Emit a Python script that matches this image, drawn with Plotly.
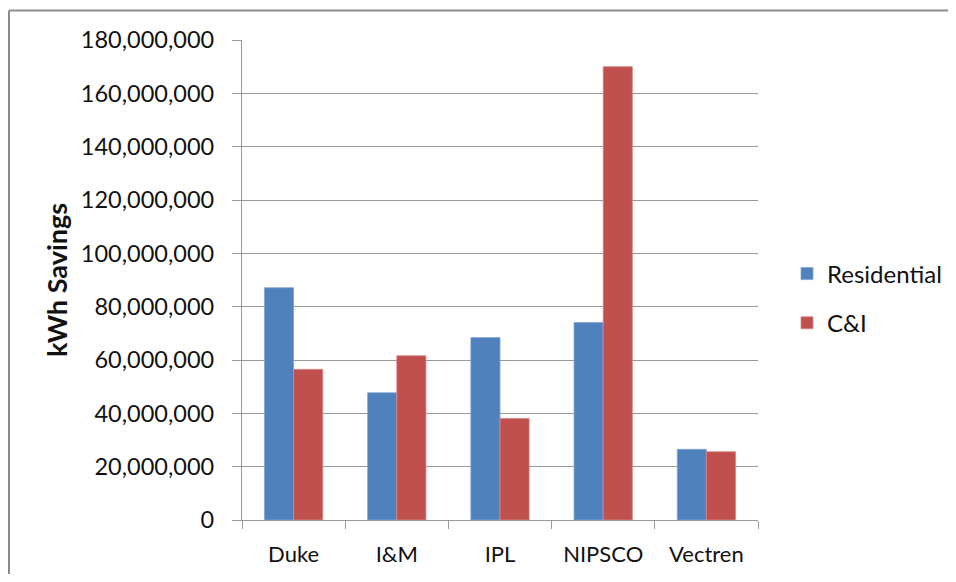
import plotly.graph_objects as go

categories = ["Duke", "I&M", "IPL", "NIPSCO", "Vectren"]
residential = [87100000, 47700000, 68400000, 74100000, 26500000]
ci = [56500000, 61600000, 38100000, 170000000, 25600000]
tick_vals = [0, 20000000, 40000000, 60000000, 80000000, 100000000, 120000000, 140000000, 160000000, 180000000]
tick_text = ["0", "20,000,000", "40,000,000", "60,000,000", "80,000,000", "100,000,000",
             "120,000,000", "140,000,000", "160,000,000", "180,000,000"]

FONT = "Lato"
# browser body margin is 8px; keep the figure inside the window
W, H = 940, 566
ML, MR, MT, MB = 234, 190, 32, 54
PW, PH = W - ML - MR, H - MT - MB

fig = go.Figure()
fig.add_trace(go.Bar(x=categories, y=residential, name="Residential", legendgroup="a",
                     marker=dict(color="#4F81BD", line=dict(color="#7FA3D3", width=0.8))))
fig.add_trace(go.Bar(x=categories, y=ci, name="C&I", legendgroup="b",
                     marker=dict(color="#C0504D", line=dict(color="#D88886", width=0.8))))

def px2x(px):
    return (px - ML) / PW

def py2y(py):
    return (H - MB - py) / PH

fig.update_layout(
    width=W, height=H,
    margin=dict(l=ML, r=MR, t=MT, b=MB, autoexpand=False),
    paper_bgcolor="white", plot_bgcolor="white",
    barmode="group", bargap=0.435, bargroupgap=0,
    font=dict(family=FONT, size=22, color="#111111"),
    showlegend=True,
    legend=dict(x=px2x(W - 1), y=py2y(290.5), xanchor="right", yanchor="middle",
                traceorder="grouped", tracegroupgap=15,
                font=dict(family=FONT, size=24, color="#111111"),
                bgcolor="rgba(0,0,0,0)"),
    xaxis=dict(showline=True, linecolor="#999999", linewidth=1.2, automargin=False,
               ticks="outside", ticklen=8, tickcolor="#999999", tickwidth=1.2,
               tickson="boundaries", showgrid=False, ticklabelstandoff=14,
               tickfont=dict(family=FONT, size=22, color="#111111")),
    yaxis=dict(range=[0, 180000000], tickvals=tick_vals, ticktext=tick_text,
               showline=True, linecolor="#999999", linewidth=1.2, automargin=False,
               ticks="outside", ticklen=9, tickcolor="#999999", tickwidth=1.2,
               showgrid=True, gridcolor="#999999", gridwidth=1.2, zeroline=False,
               ticklabelstandoff=13,
               tickfont=dict(family=FONT, size=23.5, color="#111111"),
               title=dict(text="<b>kWh Savings</b>", standoff=5,
                          font=dict(family=FONT, size=27, color="#111111"))),
    shapes=[
        dict(type="line", xref="paper", yref="paper",
             x0=px2x(1), x1=px2x(W + 40), y0=py2y(2.5), y1=py2y(2.5),
             line=dict(color="#8C8C8C", width=2), layer="below"),
        dict(type="line", xref="paper", yref="paper",
             x0=px2x(1), x1=px2x(1), y0=py2y(2.5), y1=py2y(H + 40),
             line=dict(color="#8C8C8C", width=2), layer="below"),
    ],
)

fig.write_html("out.html")
